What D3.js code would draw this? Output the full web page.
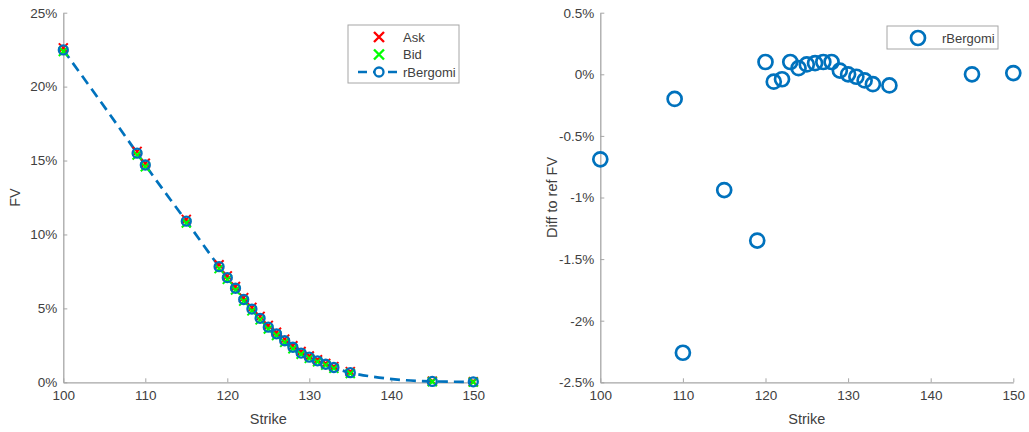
<!DOCTYPE html>
<html>
<head>
<meta charset="utf-8">
<script src="https://cdn.jsdelivr.net/npm/d3@7"></script>
<style>
  body { margin: 0; background: #fff; }
  text { font-family: "Liberation Sans", Arial, sans-serif; }
</style>
</head>
<body>
<div id="chart"></div>
<script>
// Strikes and fair values (in %)
const strikes = [100, 109, 110, 115, 119, 120, 121, 122, 123, 124, 125, 126, 127, 128, 129, 130, 131, 132, 133, 135, 145, 150];
const askFV   = [22.62, 15.62, 14.82, 11.02, 7.95, 7.2, 6.48, 5.73, 5.07, 4.46, 3.85, 3.39, 2.92, 2.47, 2.08, 1.78, 1.52, 1.28, 1.06, 0.72, 0.08, 0.04];
const bidFV   = [22.38, 15.38, 14.58, 10.78, 7.69, 6.96, 6.24, 5.49, 4.83, 4.22, 3.61, 3.17, 2.7, 2.27, 1.9, 1.62, 1.38, 1.16, 0.94, 0.6, 0.04, 0.01];
const rBergomiFV = [22.48, 15.5, 14.7, 10.9, 7.82, 7.08, 6.36, 5.6, 4.95, 4.33, 3.73, 3.28, 2.81, 2.37, 1.98, 1.7, 1.45, 1.22, 1.0, 0.65, 0.06, 0.03];
// Difference to reference FV (in %)
const diffToRef = [-0.69, -0.2, -2.26, -0.94, -1.35, 0.1, -0.06, -0.04, 0.1, 0.05, 0.08, 0.09, 0.1, 0.1, 0.03, 0.0, -0.02, -0.05, -0.08, -0.09, 0.0, 0.01];

const xTicks = [100, 110, 120, 130, 140, 150];
const leftYTicks = [0, 5, 10, 15, 20, 25];
const rightYTicks = [-2.5, -2, -1.5, -1, -0.5, 0, 0.5];

const blue = "#0072BD", axisCol = "#a6a6a6", textCol = "#404040";

const svg = d3.select("#chart").append("svg")
    .attr("width", 1029)
    .attr("height", 432);

// Draw a pair of MATLAB-like axes (left + bottom only, ticks pointing in)
function drawAxes(g, x, y, yTicks, yFmt, ylabel, ylabelX) {
    const [x0, x1] = x.range();
    const [y0, y1] = y.range();

    const xa = g.append("g").attr("transform", `translate(0,${y0})`)
        .call(d3.axisBottom(x).tickValues(xTicks).tickSizeInner(-4).tickSizeOuter(0).tickPadding(8));
    const ya = g.append("g").attr("transform", `translate(${x0},0)`)
        .call(d3.axisLeft(y).tickValues(yTicks).tickFormat(yFmt).tickSizeInner(-4).tickSizeOuter(0).tickPadding(6));

    [xa, ya].forEach(a => {
        a.select(".domain").attr("stroke", axisCol).attr("stroke-width", 1.3);
        a.selectAll(".tick line").attr("stroke", axisCol);
        a.selectAll(".tick text").attr("fill", textCol).style("font-size", "13.5px");
    });

    g.append("text")
        .attr("x", (x0 + x1) / 2).attr("y", y0 + 42)
        .attr("text-anchor", "middle").attr("fill", textCol)
        .style("font-size", "14.5px")
        .text("Strike");

    g.append("text")
        .attr("transform", `translate(${ylabelX},${(y0 + y1) / 2}) rotate(-90)`)
        .attr("text-anchor", "middle").attr("fill", textCol)
        .style("font-size", "14.5px")
        .text(ylabel);
}

function crossPath(cx, cy, s) {
    return `M${cx - s},${cy - s}L${cx + s},${cy + s}M${cx - s},${cy + s}L${cx + s},${cy - s}`;
}

// ---------- Left panel: FV ----------
const xL = d3.scaleLinear().domain([100, 150]).range([63.3, 473.3]);
const yL = d3.scaleLinear().domain([0, 25]).range([382.3, 12.7]);
const gL = svg.append("g");
drawAxes(gL, xL, yL, leftYTicks, d => d + "%", "FV", 20);

const rows = strikes.map((k, i) => ({ k, ask: askFV[i], bid: bidFV[i], rb: rBergomiFV[i] }));

// rBergomi dashed line
gL.append("path")
    .datum(rows)
    .attr("fill", "none")
    .attr("stroke", blue)
    .attr("stroke-width", 2.7)
    .attr("stroke-dasharray", "10,6")
    .attr("d", d3.line().curve(d3.curveMonotoneX).x(d => xL(d.k)).y(d => yL(d.rb)));

// Ask crosses
gL.selectAll(".ask").data(rows).enter().append("path")
    .attr("d", d => crossPath(xL(d.k), yL(d.ask), 4.5))
    .attr("stroke", "#ff0000").attr("stroke-width", 2).attr("fill", "none");

// Bid crosses
gL.selectAll(".bid").data(rows).enter().append("path")
    .attr("d", d => crossPath(xL(d.k), yL(d.bid), 4.5))
    .attr("stroke", "#00ff00").attr("stroke-width", 2).attr("fill", "none");

// rBergomi markers
gL.selectAll(".rb").data(rows).enter().append("circle")
    .attr("cx", d => xL(d.k)).attr("cy", d => yL(d.rb))
    .attr("r", 4.5).attr("fill", "none")
    .attr("stroke", blue).attr("stroke-width", 2.3);

// Left legend
const legL = gL.append("g").attr("transform", "translate(348,25)");
legL.append("rect").attr("width", 111).attr("height", 58)
    .attr("fill", "#fff").attr("stroke", axisCol);
const legItems = [
    { name: "Ask", y: 12 },
    { name: "Bid", y: 29.5 },
    { name: "rBergomi", y: 47 }
];
legItems.forEach(it => {
    const cy = it.y;
    if (it.name === "Ask" || it.name === "Bid") {
        legL.append("path").attr("d", crossPath(31, cy, 5))
            .attr("stroke", it.name === "Ask" ? "#ff0000" : "#00ff00")
            .attr("stroke-width", 2.4).attr("fill", "none");
    } else {
        legL.append("line").attr("x1", 10).attr("x2", 51).attr("y1", cy).attr("y2", cy)
            .attr("stroke", blue).attr("stroke-width", 2.7).attr("stroke-dasharray", "9,6");
        legL.append("circle").attr("cx", 31).attr("cy", cy).attr("r", 4.5)
            .attr("fill", "#fff").attr("stroke", blue).attr("stroke-width", 2.3);
    }
    legL.append("text").attr("x", 55).attr("y", cy + 4.5)
        .attr("fill", textCol).style("font-size", "13px").text(it.name);
});

// ---------- Right panel: difference ----------
const xR = d3.scaleLinear().domain([100, 150]).range([600.3, 1013.3]);
const yR = d3.scaleLinear().domain([-2.5, 0.5]).range([382.3, 12.7]);
const gR = svg.append("g");
drawAxes(gR, xR, yR, rightYTicks, d => d + "%", "Diff to ref FV", 557);

gR.selectAll(".diff").data(strikes).enter().append("circle")
    .attr("cx", d => xR(d)).attr("cy", (d, i) => yR(diffToRef[i]))
    .attr("r", 7).attr("fill", "none")
    .attr("stroke", blue).attr("stroke-width", 2.7);

const legR = gR.append("g").attr("transform", "translate(887,26)");
legR.append("rect").attr("width", 111).attr("height", 23)
    .attr("fill", "#fff").attr("stroke", axisCol);
legR.append("circle").attr("cx", 31).attr("cy", 12).attr("r", 7)
    .attr("fill", "none").attr("stroke", blue).attr("stroke-width", 2.7);
legR.append("text").attr("x", 55).attr("y", 16.5)
    .attr("fill", textCol).style("font-size", "13px").text("rBergomi");
</script>
</body>
</html>
